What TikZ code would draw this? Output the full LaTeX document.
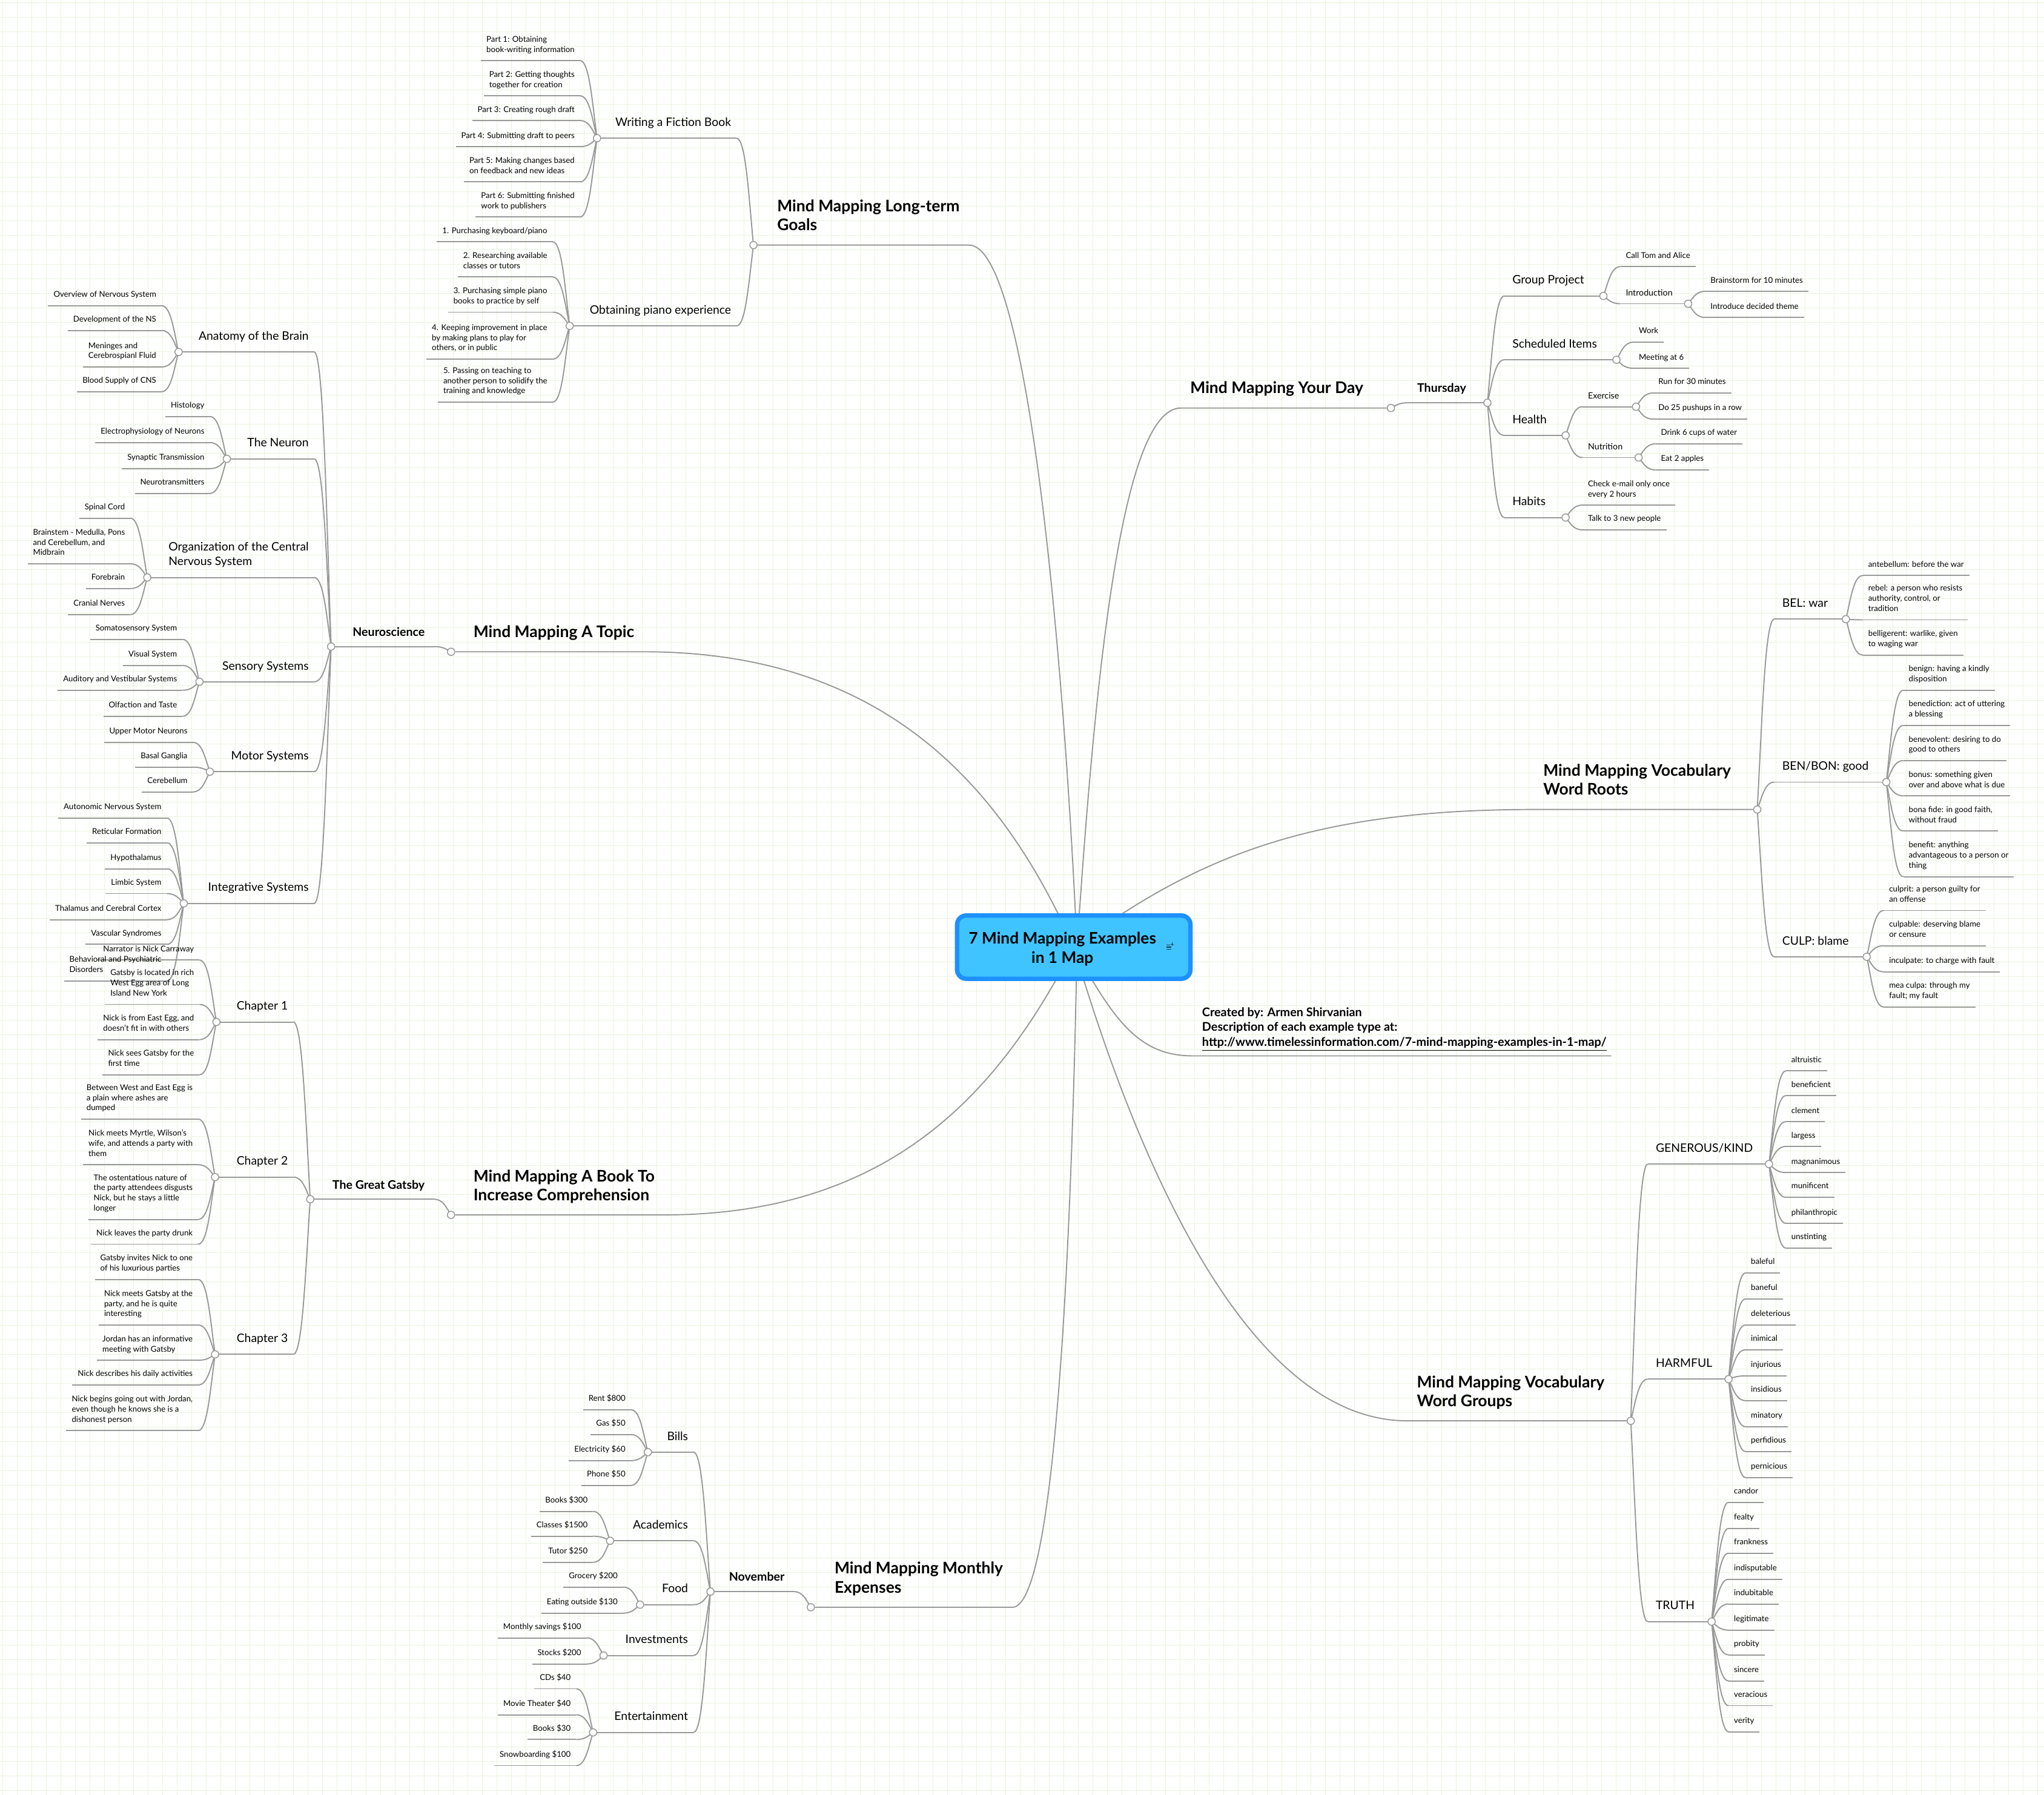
\documentclass[tikz,border=0pt]{standalone}
\usepackage{fontspec}
\setmainfont{Lato}
\usetikzlibrary{backgrounds,calc}
\definecolor{gridline}{HTML}{E9F3DD}
\definecolor{wireline}{HTML}{999999}
\definecolor{rootfill}{HTML}{40C4FF}
\definecolor{rootedge}{HTML}{1E90FF}
\tikzset{
  wire/.style={draw=wireline,line width=0.9pt},
  hub/.style={circle,draw=wireline,fill=white,line width=0.7pt,minimum size=5.6pt,inner sep=0pt},
  leaf/.style={font=\fontsize{6.15}{7.8}\selectfont,align=left,inner xsep=4pt,inner ysep=4pt,execute at end node=\strut},
  midtext/.style={font=\fontsize{9}{11.5}\selectfont,align=left,inner xsep=4pt,inner ysep=5.5pt,execute at end node=\strut},
  midright/.style={midtext,inner xsep=6pt},
  subtext/.style={font=\fontsize{6.6}{8.6}\selectfont,align=left,inner xsep=4pt,inner ysep=3.5pt,execute at end node=\strut},
  boldtext/.style={font=\fontsize{9.1}{11}\bfseries\selectfont,align=left,inner xsep=7pt,inner ysep=4.5pt,execute at end node=\strut},
  maintext/.style={font=\fontsize{12.3}{14.5}\bfseries\selectfont,align=left,inner xsep=7pt,inner ysep=6.5pt,execute at end node=\strut},
}
% curve from the end of a rule into its parent
\newcommand{\bendwire}[2]{\draw[wire] let \p1=(#1.center), \p2=(#2) in (\p2) .. controls ({\x1+0.45*(\x2-\x1)},\y2) and ({\x1+0.28*(\x2-\x1)},{\y1+0.45*(\y2-\y1)}) .. (\p1);}
% branch with its own hub: style, name, parent, hub x, rule y, text
\newcommand{\branchL}[6]{
  \node[hub] (#2) at (#4,#5) {};
  \node[#1,anchor=south east] (#2-t) at ([xshift=-13pt]#3.center |- 0,#5) {#6};
  \begin{pgfonlayer}{background}
    \draw[wire] (#2.center) -- (#2-t.south east);
    \bendwire{#3}{#2-t.south east}
  \end{pgfonlayer}
}
\newcommand{\branchR}[6]{
  \node[hub] (#2) at (#4,#5) {};
  \node[#1,anchor=south west] (#2-t) at ([xshift=13pt]#3.center |- 0,#5) {#6};
  \begin{pgfonlayer}{background}
    \draw[wire] (#2.center) -- (#2-t.south west);
    \bendwire{#3}{#2-t.south west}
  \end{pgfonlayer}
}
% list of leaves: parent, {y of last line/text}
\newcommand{\leavesL}[2]{
  \foreach \yy/\txt in {#2} {
    \node[leaf,anchor=south east] (#1-\yy) at ([xshift=-13pt]#1.center |- 0,\yy+8.5) {\txt};
    \begin{pgfonlayer}{background}
      \draw[wire] (#1-\yy.south west) -- (#1-\yy.south east);
      \bendwire{#1}{#1-\yy.south east}
    \end{pgfonlayer}
  }
}
\newcommand{\leavesR}[2]{
  \foreach \yy/\txt in {#2} {
    \node[leaf,anchor=south west] (#1-\yy) at ([xshift=13pt]#1.center |- 0,\yy+8.5) {\txt};
    \begin{pgfonlayer}{background}
      \draw[wire] (#1-\yy.south east) -- (#1-\yy.south west);
      \bendwire{#1}{#1-\yy.south west}
    \end{pgfonlayer}
  }
}
\begin{document}
\begin{tikzpicture}[x=1pt,y=-1pt]
\useasboundingbox (0,0) rectangle (1568,1377);
\begin{pgfonlayer}{background}
  \fill[white] (0,0) rectangle (1568,1377);
  \foreach \gx in {0,...,140} \draw[gridline,line width=0.5pt] ({2.1+11.15*\gx},0) -- ({2.1+11.15*\gx},1377);
  \foreach \gy in {0,...,123} \draw[gridline,line width=0.5pt] (0,{1.9+11.15*\gy}) -- (1568,{1.9+11.15*\gy});
\end{pgfonlayer}

% root
\node[rounded corners=7pt,draw=rootedge,fill=rootfill,line width=3.4pt,minimum width=179pt,minimum height=48.5pt] (root) at (823.7,726.6) {};
\node[font=\fontsize{12.2}{14.5}\bfseries\selectfont,align=center] (title) at (815,728) {7 Mind Mapping Examples\\in 1 Map};
\coordinate (noteicon) at (896.6,726.6);
\draw[line width=0.5pt,black!70!rootfill] ($(noteicon)+(-1.8,-1.5)$) -- +(3,0) ($(noteicon)+(-1.8,0)$) -- +(3.6,0) ($(noteicon)+(-1.8,1.7)$) -- +(3.6,0);
\draw[line width=0.4pt,black!70!rootfill] ($(noteicon)+(2.7,-3.6)$) -- +(0,2.6) ($(noteicon)+(1.4,-2.3)$) -- +(2.6,0);

% first level
\node[hub] (goals) at (578,188) {};
\node[maintext,anchor=south west] (goals-t) at ([xshift=11pt]goals.center) {Mind Mapping Long-term\\Goals};
\node[hub] (topic) at (346,500) {};
\node[maintext,anchor=south west] (topic-t) at ([xshift=10pt]topic.center) {Mind Mapping A Topic};
\node[hub] (book) at (346,932) {};
\node[maintext,anchor=south west] (book-t) at ([xshift=10pt]book.center) {Mind Mapping A Book To\\Increase Comprehension};
\node[hub] (money) at (622,1233) {};
\node[maintext,anchor=south west] (money-t) at ([xshift=11pt]money.center) {Mind Mapping Monthly\\Expenses};
\node[hub] (day) at (1067,313) {};
\node[maintext,anchor=south east] (day-t) at ([xshift=-14pt]day.center) {Mind Mapping Your Day};
\node[hub] (roots) at (1348,621) {};
\node[maintext,anchor=south east] (roots-t) at ([xshift=-13pt]roots.center) {Mind Mapping Vocabulary\\Word Roots};
\node[hub] (groups) at (1251,1090) {};
\node[maintext,anchor=south east] (groups-t) at ([xshift=-13pt]groups.center) {Mind Mapping Vocabulary\\Word Groups};
\node[anchor=south west,font=\fontsize{9.2}{11.5}\bfseries\selectfont,align=left,inner xsep=7pt,inner ysep=3.5pt] (credit) at (915,810) {Created by: Armen Shirvanian\\Description of each example type at:\\\underline{http://www.timelessinformation.com/7-mind-mapping-examples-in-1-map/}};
\coordinate (credit-end) at (1236,810);
\begin{pgfonlayer}{background}
  \draw[wire] (goals) -- (goals-t.south east) .. controls +(45,0) and (816,500) .. ([xshift=2.5pt]root.center);
  \draw[wire] (topic) -- (topic-t.south east) .. controls (680,500) and (770,605) .. (root.center);
  \draw[wire] (book) -- (book-t.south east) .. controls (690,932) and (770,830) .. (root.center);
  \draw[wire] (money) -- (money-t.south east) .. controls (810,1233) and (822,950) .. ([xshift=2.5pt]root.center);
  \draw[wire] (day) -- (day-t.south west) .. controls (860,313) and (840,520) .. ([xshift=2.5pt]root.center);
  \draw[wire] (roots) -- (roots-t.south west) .. controls (1000,621) and (915,660) .. (root.center);
  \draw[wire] (groups) -- (groups-t.south west) .. controls (960,1090) and (875,900) .. (root.center);
  \draw[wire] (credit-end) -- (credit.south west) .. controls (875,810) and (855,785) .. (root.center);
\end{pgfonlayer}

% long-term goals
\branchL{midtext}{fiction}{goals}{458}{106}{Writing a Fiction Book}
\branchL{midtext}{piano}{goals}{437}{250}{Obtaining piano experience}
\leavesL{fiction}{38/{Part 1: Obtaining\\book-writing information},65/{Part 2: Getting thoughts\\together for creation},84/{Part 3: Creating rough draft},104/{Part 4: Submitting draft to peers},131/{Part 5: Making changes based\\on feedback and new ideas},158/{Part 6: Submitting finished\\work to publishers}}
\leavesL{piano}{177/{1. Purchasing keyboard/piano},204/{2. Researching available\\classes or tutors},231/{3. Purchasing simple piano\\books to practice by self},267/{4. Keeping improvement in place\\by making plans to play for\\others, or in public},300/{5. Passing on teaching to\\another person to solidify the\\training and knowledge}}

% a topic
\branchL{boldtext}{neuro}{topic}{254}{496}{Neuroscience}
\branchL{midtext}{anatomy}{neuro}{137}{270}{Anatomy of the Brain}
\branchL{midtext}{neuron}{neuro}{174}{352}{The Neuron}
\branchL{midtext}{organ}{neuro}{113}{443}{Organization of the Central\\Nervous System}
\branchL{midtext}{sensory}{neuro}{153}{523}{Sensory Systems}
\branchL{midtext}{motor}{neuro}{161}{592}{Motor Systems}
\branchL{midtext}{integ}{neuro}{141}{693}{Integrative Systems}
\leavesL{anatomy}{226/{Overview of Nervous System},245/{Development of the NS},273/{Meninges and\\Cerebrospianl Fluid},292/{Blood Supply of CNS}}
\leavesL{neuron}{311/{Histology},331/{Electrophysiology of Neurons},351/{Synaptic Transmission},370/{Neurotransmitters}}
\leavesL{organ}{389/{Spinal Cord},424/{Brainstem - Medulla, Pons\\and Cerebellum, and\\Midbrain},443/{Forebrain},463/{Cranial Nerves}}
\leavesL{sensory}{482/{Somatosensory System},502/{Visual System},521/{Auditory and Vestibular Systems},541/{Olfaction and Taste}}
\leavesL{motor}{561/{Upper Motor Neurons},580/{Basal Ganglia},599/{Cerebellum}}
\leavesL{integ}{619/{Autonomic Nervous System},638/{Reticular Formation},658/{Hypothalamus},677/{Limbic System},697/{Thalamus and Cerebral Cortex},716/{Vascular Syndromes},744/{Behavioral and Psychiatric\\Disorders}}

% a book
\branchL{boldtext}{gatsby}{book}{238}{920}{The Great Gatsby}
\branchL{midtext}{chone}{gatsby}{166}{784}{Chapter 1}
\branchL{midtext}{chtwo}{gatsby}{165}{903}{Chapter 2}
\branchL{midtext}{chthree}{gatsby}{165}{1039}{Chapter 3}
\leavesL{chone}{728/{Narrator is Nick Carraway},762/{Gatsby is located in rich\\West Egg area of Long\\Island New York},789/{Nick is from East Egg, and\\doesn't fit in with others},816/{Nick sees Gatsby for the\\first time}}
\leavesL{chtwo}{850/{Between West and East Egg is\\a plain where ashes are\\dumped},885/{Nick meets Myrtle, Wilson's\\wife, and attends a party with\\them},927/{The ostentatious nature of\\the party attendees disgusts\\Nick, but he stays a little\\longer},946/{Nick leaves the party drunk}}
\leavesL{chthree}{973/{Gatsby invites Nick to one\\of his luxurious parties},1008/{Nick meets Gatsby at the\\party, and he is quite\\interesting},1035/{Jordan has an informative\\meeting with Gatsby},1054/{Nick describes his daily activities},1089/{Nick begins going out with Jordan,\\even though he knows she is a\\dishonest person}}

% monthly expenses
\branchL{boldtext}{november}{money}{545}{1221}{November}
\branchL{midtext}{bills}{november}{497}{1114}{Bills}
\branchL{midtext}{academics}{november}{468}{1182}{Academics}
\branchL{midtext}{food}{november}{491}{1231}{Food}
\branchL{midtext}{invest}{november}{463}{1270}{Investments}
\branchL{midtext}{enter}{november}{455}{1329}{Entertainment}
\leavesL{bills}{1073/{Rent \$800},1092/{Gas \$50},1112/{Electricity \$60},1131/{Phone \$50}}
\leavesL{academics}{1151/{Books \$300},1170/{Classes \$1500},1190/{Tutor \$250}}
\leavesL{food}{1209/{Grocery \$200},1229/{Eating outside \$130}}
\leavesL{invest}{1248/{Monthly savings \$100},1268/{Stocks \$200}}
\leavesL{enter}{1287/{CDs \$40},1307/{Movie Theater \$40},1326/{Books \$30},1346/{Snowboarding \$100}}

% your day
\branchR{boldtext}{thursday}{day}{1141}{309}{Thursday}
\branchR{midright}{project}{thursday}{1230}{227}{Group Project}
\branchR{midright}{items}{thursday}{1240}{276}{Scheduled Items}
\branchR{midright}{health}{thursday}{1201}{334}{Health}
\branchR{midright}{habits}{thursday}{1201}{397}{Habits}
\leavesR{project}{196/{Call Tom and Alice}}
\branchR{subtext}{intro}{project}{1295}{233}{Introduction}
\leavesR{intro}{215/{Brainstorm for 10 minutes},235/{Introduce decided theme}}
\leavesR{items}{254/{Work},274/{Meeting at 6}}
\branchR{subtext}{exercise}{health}{1255}{312}{Exercise}
\branchR{subtext}{nutrition}{health}{1257}{351}{Nutrition}
\leavesR{exercise}{293/{Run for 30 minutes},313/{Do 25 pushups in a row}}
\leavesR{nutrition}{332/{Drink 6 cups of water},352/{Eat 2 apples}}
\leavesR{habits}{379/{Check e-mail only once\\every 2 hours},398/{Talk to 3 new people}}

% word roots
\branchR{midright}{bel}{roots}{1416}{475}{BEL: war}
\branchR{midright}{ben}{roots}{1447}{600}{BEN/BON: good}
\branchR{midright}{culp}{roots}{1432}{734}{CULP: blame}
\leavesR{bel}{433/{antebellum: before the war},467/{rebel: a person who resists\\authority, control, or\\tradition},494/{belligerent: warlike, given\\to waging war}}
\leavesR{ben}{521/{benign: having a kindly\\disposition},548/{benediction: act of uttering\\a blessing},575/{benevolent: desiring to do\\good to others},602/{bonus: something given\\over and above what is due},629/{bona fide: in good faith,\\without fraud},664/{benefit: anything\\advantageous to a person or\\thing}}
\leavesR{culp}{690/{culprit: a person guilty for\\an offense},717/{culpable: deserving blame\\or censure},737/{inculpate: to charge with fault},764/{mea culpa: through my\\fault; my fault}}

% word groups
\branchR{midright}{kind}{groups}{1357}{893}{GENEROUS/KIND}
\branchR{midright}{harm}{groups}{1326}{1058}{HARMFUL}
\branchR{midright}{truth}{groups}{1313}{1244}{TRUTH}
\leavesR{kind}{813/{altruistic},832/{beneficient},852/{clement},871/{largess},891/{magnanimous},910/{munificent},930/{philanthropic},949/{unstinting}}
\leavesR{harm}{968/{baleful},988/{baneful},1008/{deleterious},1027/{inimical},1047/{injurious},1066/{insidious},1086/{minatory},1105/{perfidious},1125/{pernicious}}
\leavesR{truth}{1144/{candor},1164/{fealty},1183/{frankness},1203/{indisputable},1222/{indubitable},1242/{legitimate},1261/{probity},1281/{sincere},1300/{veracious},1320/{verity}}
\end{tikzpicture}
\end{document}
